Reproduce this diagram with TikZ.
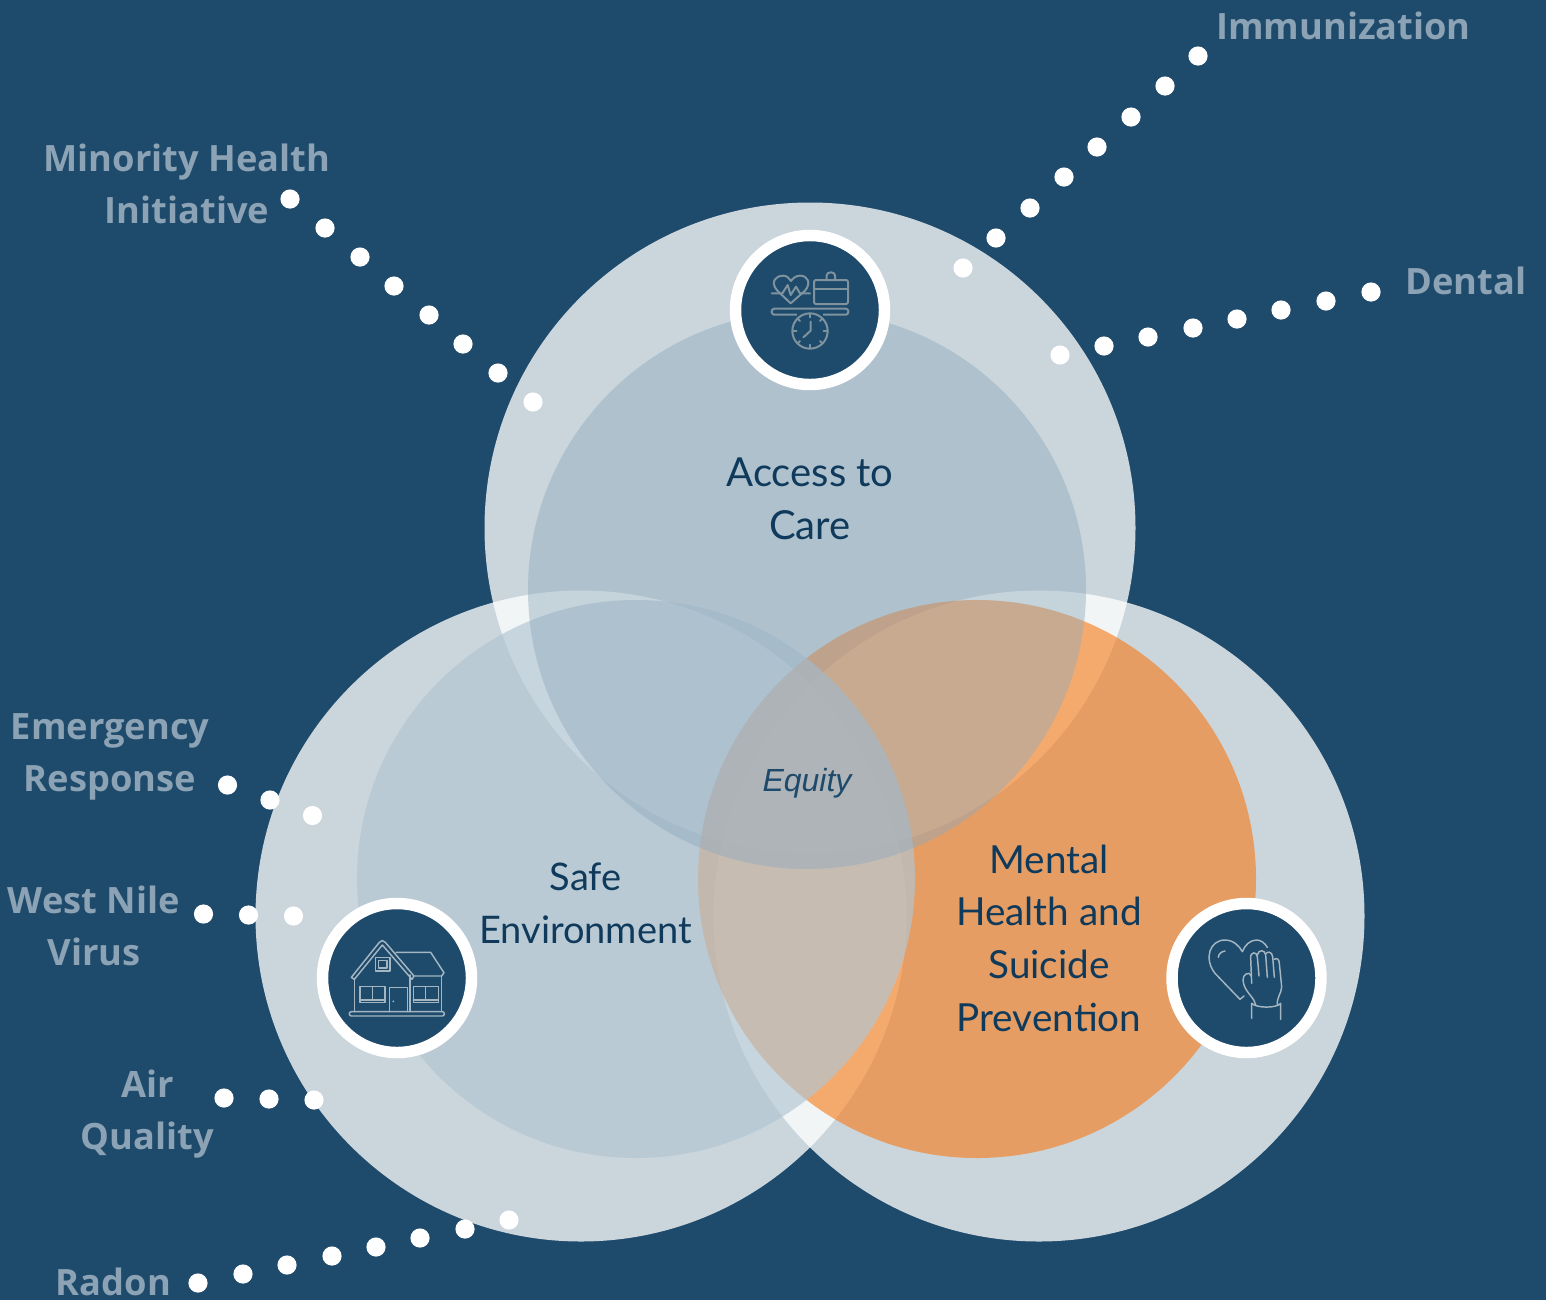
\documentclass[tikz,border=0pt]{standalone}
\usepackage{fontspec}
\setmainfont{Lato}
\newfontfamily\labelfont{Open Sans}
\newfontfamily\eqfont{Liberation Sans}
\definecolor{bgc}{HTML}{1E4A6B}
\definecolor{labelc}{HTML}{8CA2B5}
\definecolor{inkc}{HTML}{0F3A5C}
\definecolor{orangec}{HTML}{F87813}
\definecolor{topin}{HTML}{8FAABC}
\definecolor{leftin}{HTML}{B2C6D3}
\definecolor{ico}{HTML}{7F939F}
\definecolor{icob}{HTML}{A3B6C2}
\tikzset{
  outer/.style={fill=white,fill opacity=0.77},
  dotm/.style={fill=white},
  lab/.style={font=\labelfont\bfseries\fontsize{27.2}{39}\selectfont,text=labelc,align=center,inner sep=0pt},
  main/.style={font=\fontsize{28.5}{39.5}\selectfont,text=inkc,align=center,inner sep=0pt},
  ring/.style={fill=bgc,draw=white,line width=8.6pt},
  iconA/.style={draw=ico,line width=1.5pt,line join=round,line cap=round,x=0.25pt,y=-0.25pt},
  iconB/.style={draw=icob,line width=1.1pt,line join=round,line cap=round,x=0.25pt,y=-0.25pt}
}
\begin{document}
\begin{tikzpicture}[x=0.75pt,y=-0.75pt]
\fill[bgc] (0,0) rectangle (1546,1300);
\useasboundingbox (0,0) rectangle (1546,1300);
% outer circles
\fill[outer] (810,528) circle (325.5);
\fill[outer] (581,916) circle (325.5);
\fill[outer] (1039,916) circle (325.5);
% inner circles
\fill[orangec,fill opacity=0.6] (977,879) circle (279);
\fill[leftin,fill opacity=0.68] (636,879) circle (279);
\fill[topin,fill opacity=0.45] (807,590) circle (279);
% dots
\foreach \p in {(963,268),(996,238),(1030,208),(1064,177),(1097,147),(1131,117),(1165,86),(1198,56),
 (1060,355),(1104,346),(1148,337),(1193,328),(1237,319),(1281,310),(1326,301),(1371,292),
 (290,199),(325,228),(360,257),(394,286),(429,315),(463,344),(498,373),(533,402),
 (227.5,785),(270,800),(312.5,815.5),(203.5,914),(248.5,915),(293.5,916),(224,1098),(269,1099),(314,1100),
 (198,1283),(243,1274),(287,1265),(332,1256),(376,1247),(420,1238),(465,1229),(509,1220)}
 \fill[dotm] \p circle (9.6);
% rings
\path[ring] (810,310) circle (74.5);
\path[ring] (397,978) circle (74.5);
\path[ring] (1246.5,978) circle (74.5);
% care icon
\begin{scope}[shift={(720,220)},iconA]
 \draw (212,250) -- (172,212) .. controls (148,185) and (170,165) .. (190,167) .. controls (200,167) and (208,175) .. (213,183) .. controls (218,175) and (228,167) .. (240,167) .. controls (264,167) and (274,190) .. (255,212) -- cycle;
 \draw (155,220) -- (187,220) -- (203,195) -- (212,225) -- (228,200) -- (240,220) -- (270,220);
 \draw[rounded corners=1.5pt] (282,180) rectangle (384,252);
 \draw (282,207) -- (384,207);
 \draw (320,180) -- (320,166) .. controls (320,154) and (345,154) .. (345,166) -- (345,180);
 \draw[rounded corners=2pt] (155,266) rectangle (385,284);
 \fill[bgc,draw=none] (232,278) rectangle (310,290);
 \draw[fill=bgc] (270,333) circle (53);
 \draw (272,305) -- (272,332) -- (250,352);
 \draw (270,282) -- (270,292) (270,374) -- (270,384) (219,333) -- (229,333) (311,333) -- (322,333);
 \draw (233,296) -- (240,303) (307,296) -- (300,303) (233,370) -- (240,363) (307,370) -- (300,363);
\end{scope}
% house icon
\begin{scope}[shift={(310,890)},iconB]
 \draw (124,262) -- (208,157) .. controls (213,150) and (221,150) .. (226,157) -- (312,258) -- (306,268) -- (217,165) -- (133,268) -- cycle;
 \draw (258,187) -- (362,187) -- (402,248) -- (395,258) -- (310,258);
 \draw (133,268) -- (133,365) (395,258) -- (395,365) (300,255) -- (300,365);
 \draw[rounded corners=1.5pt] (118,365) rectangle (403,378);
 \draw (150,290) rectangle (225,338) (187,290) -- (187,330) (150,330) -- (225,330);
 \draw (310,290) rectangle (385,338) (347,290) -- (347,330) (310,330) -- (385,330);
 \draw (238,365) -- (238,293) -- (292,293) -- (292,365);
 \fill[icob,draw=none] (250,334) circle (3);
 \draw (197,202) rectangle (240,243) (206,211) rectangle (231,234);
\end{scope}
% heart and hand icon
\begin{scope}[shift={(1160,890)},iconB]
 \draw (252,318) -- (240,328) -- (165,250) .. controls (130,205) and (150,150) .. (195,150) .. controls (220,150) and (238,168) .. (247,185) .. controls (255,165) and (270,150) .. (290,150) .. controls (303,150) and (315,160) .. (322,172);
 \draw (175,202) .. controls (176,192) and (183,185) .. (195,183);
 \draw (275,385) -- (275,340) .. controls (290,355) and (350,355) .. (362,340) -- (362,388);
 \draw (287,345) .. controls (285,325) and (260,310) .. (252,285) .. controls (245,262) and (252,250) .. (268,250) -- (273,258);
 \draw (275,280) -- (272,205) .. controls (270,185) and (290,183) .. (292,200) -- (297,258);
 \draw (292,195) .. controls (295,178) and (315,178) .. (317,195) -- (322,262);
 \draw (317,192) .. controls (322,182) and (336,185) .. (338,200) -- (343,262);
 \draw (343,208) .. controls (350,202) and (358,208) .. (358,220) -- (365,290) .. controls (365,310) and (350,320) .. (352,345);
\end{scope}
% labels
\node[lab] (immu) at (1343.5,26) {Immunization};
\node[lab] (dent) at (1466,281) {Dental};
\node[lab] (mino) at (187,184) {Minority Health\\Initiative};
\node[lab] (emer) at (110,757) {Emergency\\Response};
\node[lab] (wnv) at (94,926) {West Nile\\Virus};
\node[lab] (air) at (147.5,1114) {Air\\Quality};
\node[lab,anchor=base] (rado) at (113.5,1295) {Radon};
\node[main,font=\fontsize{30}{39.5}\selectfont] (acc) at (810,499) {Access to\\Care};
\node[main] (safe) at (585.5,903) {Safe\\Environment};
\node[main,font=\fontsize{29}{39.5}\selectfont] (ment) at (1049,938) {Mental\\Health and\\Suicide\\Prevention};
\node[inner sep=0pt,text=bgc,font=\eqfont\itshape\fontsize{24}{28}\selectfont] (eq) at (807,783) {Equity};
\end{tikzpicture}
\end{document}
